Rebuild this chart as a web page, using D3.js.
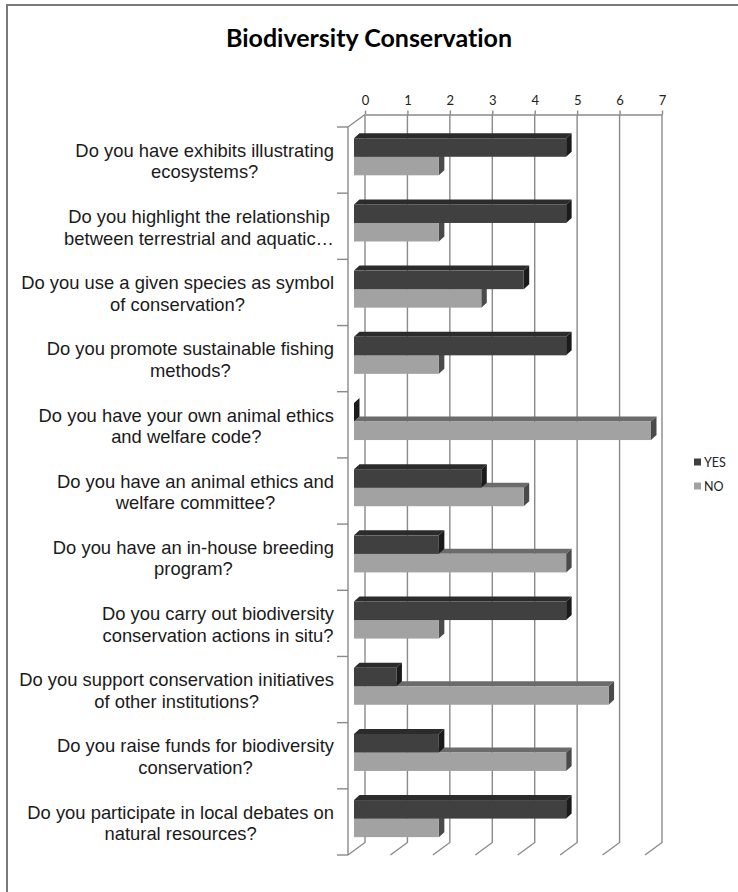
<!DOCTYPE html>
<html>
<head>
<meta charset="utf-8">
<script src="https://cdn.jsdelivr.net/npm/d3@7/dist/d3.min.js"></script>
<style>
  html, body { margin: 0; padding: 0; background: #fff; }
  svg { display: block; font-variant-ligatures: none; }
</style>
</head>
<body>
<svg id="chart" width="738" height="892"></svg>
<script>
// Survey questions (line breaks as they wrap on the chart)
const categories = [
  "Do you have exhibits illustrating\necosystems?",
  "Do you highlight the relationship\nbetween terrestrial and aquatic…",
  "Do you use a given species as symbol\nof conservation?",
  "Do you promote sustainable fishing\nmethods?",
  "Do you have your own animal ethics\nand welfare code?",
  "Do you have an animal ethics and\nwelfare committee?",
  "Do you have an in-house breeding\nprogram?",
  "Do you carry out biodiversity\nconservation actions in situ?",
  "Do you support conservation initiatives\nof other institutions?",
  "Do you raise funds for biodiversity\nconservation?",
  "Do you participate in local debates on\nnatural resources?"
];
const seriesNames = ["YES", "NO"];
const yesValues = [5, 5, 4, 5, 0, 3, 2, 5, 1, 2, 5];
const noValues  = [2, 2, 3, 2, 7, 4, 5, 2, 6, 5, 2];
const tickValues = [0, 1, 2, 3, 4, 5, 6, 7];

const colors = {
  YES: { front: "#404040", top: "#2b2b2b", side: "#1b1b1b" },
  NO:  { front: "#a2a2a2", top: "#6b6b6b", side: "#4a4a4a" }
};

const svg = d3.select("#chart");

// frame
svg.append("rect")
  .attr("x", 7).attr("y", 5).attr("width", 900).attr("height", 1000)
  .attr("fill", "none").attr("stroke", "#7a7a7a").attr("stroke-width", 2);

// title
svg.append("text")
  .attr("x", 369).attr("y", 37)
  .attr("text-anchor", "middle").attr("dominant-baseline", "central")
  .style("font-family", "Lato, 'Open Sans', sans-serif")
  .style("font-weight", "bold").style("font-size", "25px")
  .attr("fill", "#000")
  .text("Biodiversity Conservation");

// 3D geometry: back wall and front plane
const backX0 = 365, backTop = 114.5, backBottom = 842.5;
const depthX = -17, depthY = 12.5;            // back wall -> front plane
const frontX0 = backX0 + depthX, frontTop = backTop + depthY, frontBottom = backBottom + depthY;
const barX0 = 354;                            // bar front-face origin
const barDX = 5.5, barDY = -5;                // bar depth

const x = d3.scaleLinear().domain([0, 7]).range([0, 297]);
const y = d3.scaleBand().domain(d3.range(categories.length)).range([frontTop, frontBottom]);
const bw = y.bandwidth();
const inner = d3.scaleBand().domain(seriesNames)
  .range([0.17 * bw, 0.17 * bw + 2 * 0.28 * bw]);

const grid = svg.append("g").attr("stroke", "#8a8a8a").attr("stroke-width", 1.4).attr("fill", "none");

// vertical gridlines on the back wall and their floor diagonals
tickValues.forEach(t => {
  const gx = backX0 + x(t);
  grid.append("path")
    .attr("d", `M${gx},${backTop}V${backBottom}L${gx + depthX},${backBottom + depthY}`);
});
// left edge diagonal at the top and front vertical axis
grid.append("path").attr("d", `M${backX0},${backTop}L${frontX0},${frontTop}V${frontBottom}`);

// category boundary ticks on the front axis
const bounds = categories.map((c, i) => y(i)).concat([frontBottom]);
grid.selectAll("line.cb").data(bounds).join("line")
  .attr("x1", frontX0 - 11).attr("x2", frontX0)
  .attr("y1", d => d).attr("y2", d => d);

// top value axis
const axis = svg.append("g")
  .attr("transform", `translate(${backX0},${backTop})`)
  .call(d3.axisTop(x).tickValues(tickValues).tickFormat(d3.format("d"))
    .tickSize(4).tickSizeOuter(0).tickPadding(6));
axis.select(".domain").attr("stroke", "#8a8a8a").attr("stroke-width", 1.4);
axis.selectAll(".tick line").attr("stroke", "#8a8a8a").attr("stroke-width", 1.4);
axis.selectAll(".tick text")
  .style("font-family", "Lato, sans-serif").style("font-size", "13px").attr("fill", "#222");

// 3D bars
function bar3d(g, v, top, h, c) {
  const x1 = barX0 + x(v);
  g.append("polygon")
    .attr("points", [[barX0, top], [x1, top], [x1 + barDX, top + barDY], [barX0 + barDX, top + barDY]].join(" "))
    .attr("fill", c.top);
  g.append("polygon")
    .attr("points", [[x1, top], [x1 + barDX, top + barDY], [x1 + barDX, top + h + barDY], [x1, top + h]].join(" "))
    .attr("fill", c.side);
  g.append("rect")
    .attr("x", barX0).attr("y", top).attr("width", x(v)).attr("height", h)
    .attr("fill", c.front);
}

const bars = svg.append("g");
categories.forEach((c, i) => {
  const g = bars.append("g");
  bar3d(g, noValues[i], y(i) + inner("NO"), inner.bandwidth(), colors.NO);
  bar3d(g, yesValues[i], y(i) + inner("YES"), inner.bandwidth(), colors.YES);
});

// category labels: lines centred on each other, block right-aligned
const labels = svg.append("g")
  .style("font-family", "'Liberation Sans', Arial, sans-serif")
  .style("font-size", "18.4px").attr("fill", "#1a1a1a");
categories.forEach((c, i) => {
  const lines = c.split("\n");
  const cy = y(i) + bw / 2 + 1;
  const t = labels.append("text").attr("text-anchor", "middle");
  lines.forEach((ln, k) => {
    t.append("tspan").attr("dominant-baseline", "central")
      .attr("y", cy + (k - (lines.length - 1) / 2) * 21.5)
      .text(ln);
  });
  let maxW = 0;
  t.selectAll("tspan").each(function () { maxW = Math.max(maxW, this.getComputedTextLength()); });
  t.selectAll("tspan").attr("x", 334 - maxW / 2);
});

// legend
const legend = svg.append("g")
  .style("font-family", "Lato, sans-serif").style("font-size", "12.5px");
seriesNames.forEach((s, k) => {
  const ly = 462 + k * 24;
  legend.append("rect").attr("x", 694).attr("y", ly - 3.5).attr("width", 7).attr("height", 7)
    .attr("fill", colors[s].front);
  legend.append("text").attr("x", 704).attr("y", ly).attr("dominant-baseline", "central")
    .attr("fill", "#222").text(s);
});
</script>
</body>
</html>
